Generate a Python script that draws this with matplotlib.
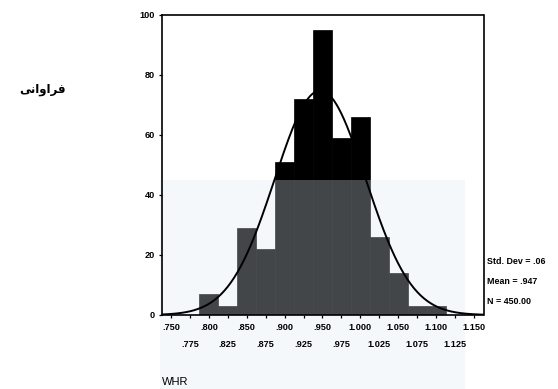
import numpy as np
import matplotlib
matplotlib.use("Agg")
import matplotlib.pyplot as plt
from matplotlib.patches import Rectangle

# ---- data ----
bin_centers = [0.800, 0.825, 0.850, 0.875, 0.900, 0.925, 0.950, 0.975,
               1.000, 1.025, 1.050, 1.075, 1.100]
counts = [7, 3, 29, 22, 51, 72, 95, 59, 66, 26, 14, 3, 3]
bin_width = 0.025
mean_val = 0.947
std_val = 0.06
n_total = 450

major_ticks = [0.75, 0.80, 0.85, 0.90, 0.95, 1.00, 1.05, 1.10, 1.15]
major_labels = [".750", ".800", ".850", ".900", ".950", "1.000", "1.050", "1.100", "1.150"]
minor_ticks = [0.775, 0.825, 0.875, 0.925, 0.975, 1.025, 1.075, 1.125]
minor_labels = [".775", ".825", ".875", ".925", ".975", "1.025", "1.075", "1.125"]
y_ticks = [0, 20, 40, 60, 80, 100]

stats_lines = ["Std. Dev = .06", "Mean = .947", "N = 450.00"]
x_title = "WHR"
# Persian "فراوانی" written in presentation forms, visual order (matplotlib has no shaping)
y_title = "\uFBFD\uFEE7\uFE8D\uFEED\uFE8D\uFEAE\uFED3"

W, H = 558, 389
fig = plt.figure(figsize=(W / 100, H / 100), dpi=100)
fig.patch.set_facecolor("white")

left, right, top, bottom = 161.5, 483.5, 15, 315
ax = fig.add_axes([left / W, 1 - bottom / H, (right - left) / W, (bottom - top) / H])
ax.set_axisbelow(False)

ax.bar(bin_centers, counts, width=bin_width, color="black", edgecolor="black",
       linewidth=0.5, zorder=2)

xs = np.linspace(0.7375, 1.1625, 400)
ys = n_total * bin_width / (std_val * np.sqrt(2 * np.pi)) * np.exp(-0.5 * ((xs - mean_val) / std_val) ** 2)
ax.plot(xs, ys, color="black", linewidth=1.4, zorder=3)

ax.set_xlim(0.7375, 1.1625)
ax.set_ylim(0, 100)

font = "Liberation Sans"
tfs = 6.6
ax.set_xticks(major_ticks)
ax.set_xticklabels(major_labels, fontsize=tfs, fontweight="bold", family=font)
ax.set_xticks(minor_ticks, minor=True)
ax.set_xticklabels(minor_labels, minor=True, fontsize=tfs, fontweight="bold", family=font)
ax.tick_params(axis="x", which="major", direction="out", length=2.5, width=0.9, pad=3)
ax.tick_params(axis="x", which="minor", direction="out", length=2.5, width=0.9, pad=15.5)
ax.set_yticks(y_ticks)
ax.set_yticklabels([str(v) for v in y_ticks], fontsize=tfs, fontweight="bold", family=font)
ax.tick_params(axis="y", direction="out", length=2.5, width=0.9, pad=2)

for s in ax.spines.values():
    s.set_color("black")
    s.set_linewidth(1.2)
    s.set_zorder(3)

# pale overlay seen in the reference (lightens the lower part of the bars)
overlay = Rectangle((160 / W, 0), 305 / W, (H - 180) / H, transform=fig.transFigure,
                    facecolor=(0.88, 0.92, 0.96), alpha=0.3, edgecolor="none",
                    zorder=2.2, clip_on=False)
ax.add_artist(overlay)

for i, line in enumerate(stats_lines):
    fig.text(487 / W, 1 - (262 + 20 * i) / H, line, fontsize=6.4, fontweight="bold",
             family=font, ha="left", va="center")

fig.text(162 / W, 1 - 382 / H, x_title, fontsize=8, family=font, ha="left", va="center")
fig.text(66 / W, 1 - 90 / H, y_title, fontsize=8.5, family="DejaVu Sans", fontweight="bold",
         ha="right", va="center")

fig.savefig("out.png", dpi=100, facecolor="white")
